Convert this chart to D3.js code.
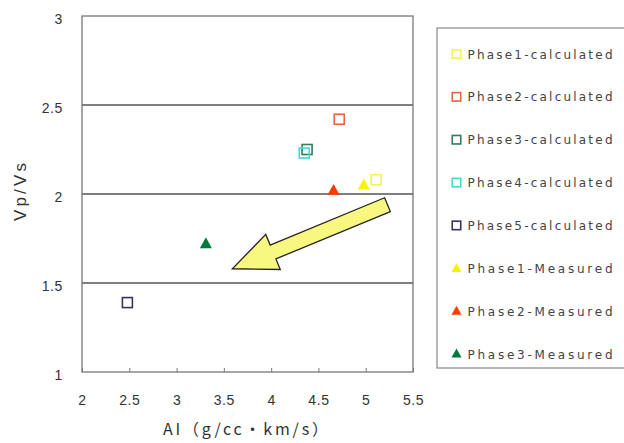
<!DOCTYPE html>
<html><head><meta charset="utf-8">
<script src="https://cdn.jsdelivr.net/npm/d3@7/dist/d3.min.js"></script>
<style>body{margin:0;background:#fff}svg{display:block}</style>
</head><body><svg id="c" width="624" height="443"></svg>
<script>
const seriesNames = ["Phase1-calculated","Phase2-calculated","Phase3-calculated","Phase4-calculated","Phase5-calculated","Phase1-Measured","Phase2-Measured","Phase3-Measured"];
const seriesShapes = ["square","square","square","square","square","triangle","triangle","triangle"];
const seriesColors = ["#f2f25a","#e8643c","#2f7c5e","#45d8d8","#34346a","#f5f500","#ff3a00","#007a3c"];
const xValues = [5.11, 4.72, 4.38, 4.35, 2.48, 4.98, 4.66, 3.31];
const yValues = [2.08, 2.42, 2.25, 2.23, 1.39, 2.05, 2.02, 1.72];
const xTicks = [2, 2.5, 3, 3.5, 4, 4.5, 5, 5.5];
const yTicks = [1, 1.5, 2, 2.5, 3];
const arrowFrom = [5.23, 1.94];
const arrowTo = [3.59, 1.58];

const svg = d3.select("#c");
const L = 82, R = 413, T = 16, B = 372;
const x = d3.scaleLinear().domain([2, 5.5]).range([L, R]);
const y = d3.scaleLinear().domain([1, 3]).range([B, T]);
const font = "'Liberation Sans', Arial, sans-serif";

// grid lines
svg.append("g").selectAll("line").data(yTicks.filter(v => v > 1 && v < 3)).join("line")
  .attr("x1", L).attr("x2", R).attr("y1", d => y(d)).attr("y2", d => y(d))
  .attr("stroke", "#555").attr("stroke-width", 1.3);

// frame
svg.append("rect").attr("x", L).attr("y", T).attr("width", R - L).attr("height", B - T)
  .attr("fill", "none").attr("stroke", "#777").attr("stroke-width", 1.3);

// x axis
const xa = svg.append("g").attr("transform", `translate(0,${B})`)
  .call(d3.axisBottom(x).tickValues(xTicks).tickSize(-4).tickPadding(23).tickFormat(d3.format("")));
xa.select(".domain").remove();
xa.selectAll("line").attr("stroke", "#777");
xa.selectAll("text").attr("font-family", font).attr("font-size", 14).attr("fill", "#333").attr("letter-spacing", 0.6);

// y axis
const ya = svg.append("g").attr("transform", `translate(${L},0)`)
  .call(d3.axisLeft(y).tickValues(yTicks).tickSize(0).tickPadding(19).tickFormat(d3.format("")));
ya.select(".domain").remove();
ya.selectAll("text").attr("font-family", font).attr("font-size", 14).attr("fill", "#333")
  .attr("letter-spacing", 0.6).attr("dy", "0.5em");

// titles
svg.append("text").attr("x", 163).attr("y", 435)
  .attr("font-family", "'Noto Sans CJK JP', sans-serif").attr("font-size", 16).attr("fill", "#333")
  .attr("textLength", 165).attr("lengthAdjust", "spacing").text("AI（g/cc・km/s）");
svg.append("text").attr("transform", "translate(26,192) rotate(-90)").attr("text-anchor", "middle")
  .attr("font-family", font).attr("font-size", 17).attr("fill", "#333")
  .attr("textLength", 58).attr("lengthAdjust", "spacing").text("Vp/Vs");

// arrow
{
  const x0 = x(arrowFrom[0]), y0 = y(arrowFrom[1]), x1 = x(arrowTo[0]), y1 = y(arrowTo[1]);
  const dx = x1 - x0, dy = y1 - y0, len = Math.hypot(dx, dy);
  const ux = dx / len, uy = dy / len, px = -uy, py = ux;
  const sw = 7.5, hw = 19, hl = 44;
  const bx = x1 - ux * hl, by = y1 - uy * hl;
  const pts = [
    [x0 + px * sw, y0 + py * sw], [bx + px * sw, by + py * sw], [bx + px * hw, by + py * hw],
    [x1, y1], [bx - px * hw, by - py * hw], [bx - px * sw, by - py * sw], [x0 - px * sw, y0 - py * sw]
  ];
  svg.append("polygon").attr("points", pts.map(p => p.join(",")).join(" "))
    .attr("fill", "#f8f880").attr("stroke", "#222").attr("stroke-width", 1.3).attr("stroke-linejoin", "miter");
}

// marker drawer
function marker(g, shape, color, s) {
  if (shape === "square") {
    g.append("rect").attr("x", -s / 2).attr("y", -s / 2).attr("width", s).attr("height", s)
      .attr("fill", "#fff").attr("fill-opacity", 0).attr("stroke", color).attr("stroke-width", 1.6);
  } else {
    const h = s * 0.9;
    g.append("path").attr("d", `M0,${-h * 0.6}L${s / 2},${h * 0.4}L${-s / 2},${h * 0.4}Z`).attr("fill", color);
  }
}

// points
const data = seriesNames.map((n, i) => ({ n, shape: seriesShapes[i], c: seriesColors[i], x: xValues[i], y: yValues[i] }));
data.forEach(d => {
  const g = svg.append("g").attr("transform", `translate(${x(d.x)},${y(d.y)})`);
  marker(g, d.shape, d.c, d.shape === "square" ? 10 : 12);
});

// legend
svg.append("rect").attr("x", 437).attr("y", 28).attr("width", 192).attr("height", 340)
  .attr("fill", "#fff").attr("stroke", "#888").attr("stroke-width", 1.2);
const ly = d3.scalePoint().domain(seriesNames).range([54, 354]);
data.forEach(d => {
  const g = svg.append("g").attr("transform", `translate(456.5,${ly(d.n)})`);
  marker(g, d.shape, d.c, d.shape === "square" ? 8.5 : 10);
  g.append("text").attr("x", 11).attr("y", 4.5).attr("font-family", "'DejaVu Sans', sans-serif")
    .attr("font-size", 12).attr("fill", "#444").attr("textLength", 145).attr("lengthAdjust", "spacing").text(d.n);
});
</script></body></html>
